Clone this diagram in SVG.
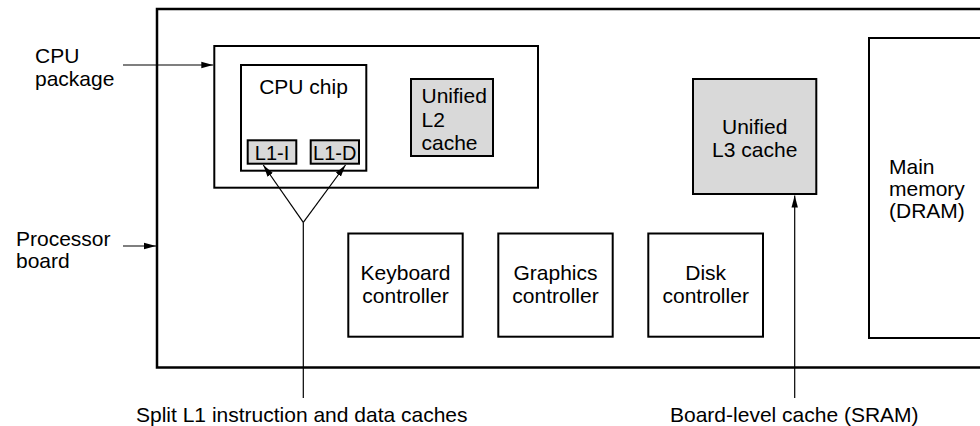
<svg xmlns="http://www.w3.org/2000/svg" width="980" height="426" viewBox="0 0 980 426">
<defs>
<style>
text{font-family:"Liberation Sans",Arial,Helvetica,sans-serif;font-size:21px;fill:#000}
.c{text-anchor:middle}
.box{fill:#fff;stroke:#000;stroke-width:2}
.gray{fill:#d9d9d9;stroke:#000;stroke-width:2}
.ln{fill:none;stroke:#000;stroke-width:1.2}
.l1{font-size:20px}
</style>
<marker id="ah" viewBox="0 0 12 8" refX="12" refY="4" markerWidth="12" markerHeight="8" markerUnits="userSpaceOnUse" orient="auto">
<path d="M0,0.8 L12,4 L0,7.2 Z" fill="#000"/>
</marker>
</defs>
<rect width="980" height="426" fill="#fff"/>
<g id="board">
<rect x="157" y="9" width="840" height="358.5" fill="#fff" stroke="#000" stroke-width="2.5"/>
</g>
<g id="cpu-package">
<rect class="box" x="214.3" y="46" width="323.7" height="141.7"/>
</g>
<g id="cpu-chip">
<rect class="box" x="241" y="65" width="125.3" height="105.7"/>
<text class="c" x="303.5" y="94.3">CPU chip</text>
</g>
<g id="l1-i">
<rect class="gray" x="247.7" y="140.3" width="48.6" height="23.4"/>
<text class="l1 c" x="272" y="160">L1-I</text>
</g>
<g id="l1-d">
<rect class="gray" x="310.7" y="140.3" width="48.3" height="23.4"/>
<text class="l1 c" x="334.8" y="160">L1-D</text>
</g>
<g id="l2">
<rect class="gray" x="411" y="79" width="82" height="77"/>
<text x="421.5" y="103.3">Unified</text>
<text x="421.5" y="126.7">L2</text>
<text x="421.5" y="149.5">cache</text>
</g>
<g id="l3">
<rect class="gray" x="693" y="79" width="123.3" height="115"/>
<text class="c" x="754.7" y="134">Unified</text>
<text class="c" x="754.7" y="157">L3 cache</text>
</g>
<g id="main-memory">
<rect class="box" x="869" y="38" width="130" height="300"/>
<text x="889" y="173.5">Main</text>
<text x="889" y="195.5">memory</text>
<text x="889" y="217.5">(DRAM)</text>
</g>
<g id="keyboard">
<rect class="box" x="348.3" y="233.5" width="114.4" height="103.2"/>
<text class="c" x="405.5" y="280">Keyboard</text>
<text class="c" x="405.5" y="302.7">controller</text>
</g>
<g id="graphics">
<rect class="box" x="498.3" y="233.5" width="114.4" height="103.2"/>
<text class="c" x="555.5" y="280">Graphics</text>
<text class="c" x="555.5" y="302.7">controller</text>
</g>
<g id="disk">
<rect class="box" x="648.3" y="233.5" width="114.7" height="103.2"/>
<text class="c" x="705.7" y="280">Disk</text>
<text class="c" x="705.7" y="302.7">controller</text>
</g>
<g id="labels">
<text x="35" y="63.3">CPU</text>
<text x="35" y="86">package</text>
<text x="16" y="246">Processor</text>
<text x="16" y="268.3">board</text>
<text x="136" y="421.5">Split L1 instruction and data caches</text>
<text x="670" y="421.5">Board-level cache (SRAM)</text>
</g>
<g id="connectors">
<line class="ln" x1="123" y1="65" x2="213.3" y2="65" marker-end="url(#ah)"/>
<line class="ln" x1="123" y1="246" x2="156" y2="246" marker-end="url(#ah)"/>
<line class="ln" x1="303.3" y1="398" x2="303.3" y2="222.3"/>
<line class="ln" x1="303.3" y1="222.3" x2="263.3" y2="165" marker-end="url(#ah)"/>
<line class="ln" x1="303.3" y1="222.3" x2="345.5" y2="165" marker-end="url(#ah)"/>
<line class="ln" x1="794.7" y1="398" x2="794.7" y2="195.5" marker-end="url(#ah)"/>
</g>
</svg>
